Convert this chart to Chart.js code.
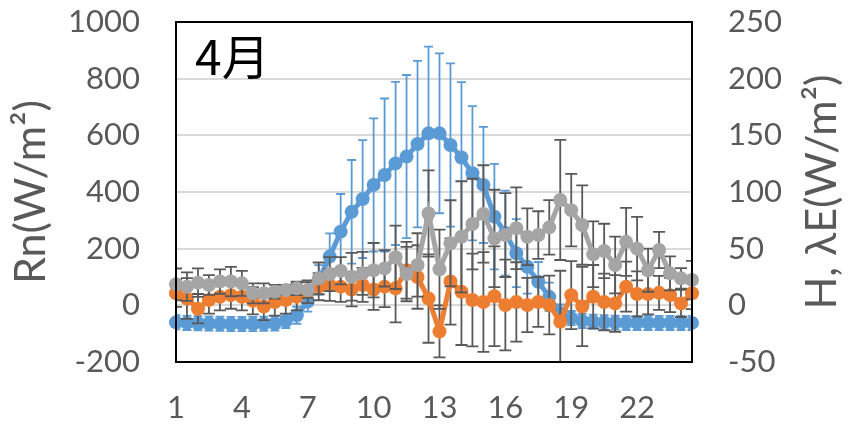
<!DOCTYPE html>
<html>
<head>
<meta charset="utf-8">
<script src="https://cdn.jsdelivr.net/npm/chart.js@4"></script>
<style>
  body { margin: 0; background: #fff; }
  #wrap { width: 848px; height: 424px; }
</style>
</head>
<body>
<div id="wrap"><canvas id="myChart" width="848" height="424"></canvas></div>
<script>
// half-hourly categories (only every 6th label is shown)
const hours = ['1','1.5','2','2.5','3','3.5','4','4.5','5','5.5','6','6.5',
  '7','7.5','8','8.5','9','9.5','10','10.5','11','11.5','12','12.5',
  '13','13.5','14','14.5','15','15.5','16','16.5','17','17.5','18','18.5',
  '19','19.5','20','20.5','21','21.5','22','22.5','23','23.5','24','24.5'];

// Rn (left axis)
const rnData = [-60, -62, -63, -64, -65, -66, -66, -66, -65, -64, -55, -35,
  13, 90, 172, 260, 330, 375, 425, 460, 501, 525, 569, 607,
  607, 566, 522, 466, 425, 313, 255, 184, 136, 83, 30, -27,
  -45, -55, -58, -60, -61, -62, -62, -62, -62, -62, -62, -62];
const rnErr = [25, 25, 25, 25, 25, 25, 25, 25, 25, 25, 25, 30,
  35, 52, 82, 133, 183, 208, 235, 270, 288, 288, 294, 306,
  282, 288, 266, 237, 205, 186, 150, 120, 95, 70, 50, 30,
  25, 25, 25, 25, 25, 25, 25, 25, 25, 25, 25, 25];

// H (right axis)
const hData = [10.6, 6, -3, 4.7, 7.6, 9, 7.6, 4, -1, 3, 4.7, 7.6,
  12, 16.5, 18, 16.5, 14, 18, 14, 16.5, 15, 31, 25, 6,
  -23, 21, 12, 4.7, 3, 8, 0.3, 3, 0.3, 3, 0.3, -14.5,
  9, -1, 7.6, 3, 1.7, 16.5, 10, 10, 11, 9, 1.7, 10.6];
const hErr = [12, 18, 13, 12, 12, 12, 12, 12, 12, 12, 12, 12,
  10, 12, 14, 13.5, 15, 15, 18, 18, 30, 25, 28, 39,
  23, 38, 47, 41, 44, 44, 40, 35, 24, 22, 26, 45,
  30, 35, 28, 25, 25, 22, 20, 18, 15, 15, 12, 14];

// λE (right axis)
const leData = [18.5, 16.5, 20, 18, 21, 21, 19.4, 10.6, 10.6, 12, 13.5, 15,
  13.5, 23.8, 27.6, 30.5, 25.2, 28.2, 31, 32.6, 42.4, 27.6, 35.6, 81,
  31.8, 54.7, 60.5, 71.7, 80.6, 59, 62, 68, 60.5, 62, 68.8, 93,
  84, 70.8, 45, 48, 35.6, 56, 50, 31, 48.8, 28.2, 23.8, 22.3];
const leErr = [14, 12.5, 12.6, 8.7, 10.8, 13, 11, 8.8, 8.8, 6, 4.5, 6,
  7, 14, 15, 12, 21, 19, 24, 16, 28, 24, 28, 38,
  35, 38, 49, 40, 43, 43, 37, 36, 25, 21, 24, 53,
  32, 35, 29, 24, 25, 30, 28, 19, 16, 15, 9, 17];

const tickFont = { family: 'Lato', size: 31 };
const titleFont = { family: 'Lato', size: 43, lineHeight: 1 };
const grayText = '#595959';

// error bars drawn under each series' line and markers
const errorBars = {
  id: 'errorBars',
  beforeDatasetDraw(chart, args) {
    const ds = chart.data.datasets[args.index];
    if (!ds.errors) return;
    const c = chart.ctx;
    const area = chart.chartArea;
    const yScale = chart.scales[ds.yAxisID];
    c.save();
    c.beginPath();
    c.rect(area.left, area.top, area.right - area.left, area.bottom - area.top);
    c.clip();
    c.strokeStyle = ds.errorColor;
    c.lineWidth = 1.8;
    args.meta.data.forEach((pt, i) => {
      const v = ds.data[i], e = ds.errors[i];
      const yTop = yScale.getPixelForValue(v + e);
      const yBot = yScale.getPixelForValue(v - e);
      const w = ds.capHalf;
      c.beginPath();
      c.moveTo(pt.x, yTop); c.lineTo(pt.x, yBot);
      c.moveTo(pt.x - w, yTop); c.lineTo(pt.x + w, yTop);
      c.moveTo(pt.x - w, yBot); c.lineTo(pt.x + w, yBot);
      c.stroke();
    });
    c.restore();
  }
};

// plot frame, month label, right axis title
const decorations = {
  id: 'decorations',
  afterDraw(chart) {
    const c = chart.ctx;
    const a = chart.chartArea;
    c.save();
    c.strokeStyle = '#000';
    c.lineWidth = 2;
    c.strokeRect(a.left, a.top, a.right - a.left, a.bottom - a.top);

    c.fillStyle = '#000';
    c.font = '48px "Noto Sans CJK JP"';
    c.textBaseline = 'alphabetic';
    c.textAlign = 'left';
    c.fillText('4月', 195, 75);

    c.fillStyle = grayText;
    c.font = '43px Lato';
    c.translate(822, (a.top + a.bottom) / 2);
    c.rotate(-Math.PI / 2);
    c.textAlign = 'center';
    c.textBaseline = 'middle';
    c.fillText('H, λE(W/m²)', 0, 0);
    c.restore();
  }
};

const config = {
  type: 'line',
  data: {
    labels: hours,
    datasets: [
      {
        label: 'Rn',
        data: rnData,
        errors: rnErr,
        errorColor: '#5b9bd5',
        capHalf: 4.5,
        yAxisID: 'y',
        order: 2,
        borderColor: '#5b9bd5',
        backgroundColor: '#5b9bd5',
        borderWidth: 5,
        pointRadius: 7,
        pointBorderWidth: 0,
        tension: 0
      },
      {
        label: 'H',
        data: hData,
        errors: hErr,
        errorColor: '#595959',
        capHalf: 6,
        yAxisID: 'y1',
        order: 1,
        borderColor: '#ed7d31',
        backgroundColor: '#ed7d31',
        borderWidth: 5,
        pointRadius: 7,
        pointBorderWidth: 0,
        tension: 0
      },
      {
        label: 'λE',
        data: leData,
        errors: leErr,
        errorColor: '#595959',
        capHalf: 6,
        yAxisID: 'y1',
        order: 0,
        borderColor: '#a5a5a5',
        backgroundColor: '#a5a5a5',
        borderWidth: 5,
        pointRadius: 7,
        pointBorderWidth: 0,
        tension: 0
      }
    ]
  },
  options: {
    responsive: false,
    animation: false,
    layout: { padding: { top: 22, left: 0, right: 0, bottom: 0 } },
    plugins: {
      legend: { display: false },
      tooltip: { enabled: false }
    },
    scales: {
      x: {
        type: 'category',
        grid: { display: false, drawTicks: false },
        border: { display: false },
        ticks: {
          autoSkip: false,
          maxRotation: 0,
          padding: 27,
          color: grayText,
          font: tickFont,
          callback: function (value, index) {
            return index % 6 === 0 ? this.getLabelForValue(value) : '';
          }
        },
        afterFit(scale) { scale.height = 62; }
      },
      y: {
        position: 'left',
        min: -200,
        max: 1000,
        // the invisible tick length keeps labels off the frame without extra top padding
        ticks: { stepSize: 200, padding: 0, color: grayText, font: tickFont, callback: v => String(v) },
        grid: { color: '#d9d9d9', lineWidth: 2, drawTicks: true, tickLength: 36, tickColor: 'rgba(0,0,0,0)' },
        border: { display: false },
        title: {
          display: true,
          text: 'Rn(W/m²)',
          color: grayText,
          font: titleFont,
          padding: { top: 10, bottom: 0 }
        },
        afterFit(scale) { scale.width = 176; }
      },
      y1: {
        position: 'right',
        min: -50,
        max: 250,
        ticks: { stepSize: 50, padding: 0, color: grayText, font: tickFont, callback: v => String(v) },
        grid: { display: false, drawTicks: true, tickLength: 36, tickColor: 'rgba(0,0,0,0)' },
        border: { display: false },
        afterFit(scale) { scale.width = 156; }
      }
    }
  },
  plugins: [errorBars, decorations]
};

const ctx = document.getElementById('myChart').getContext('2d');
const myChart = new Chart(ctx, config);
</script>
</body>
</html>
